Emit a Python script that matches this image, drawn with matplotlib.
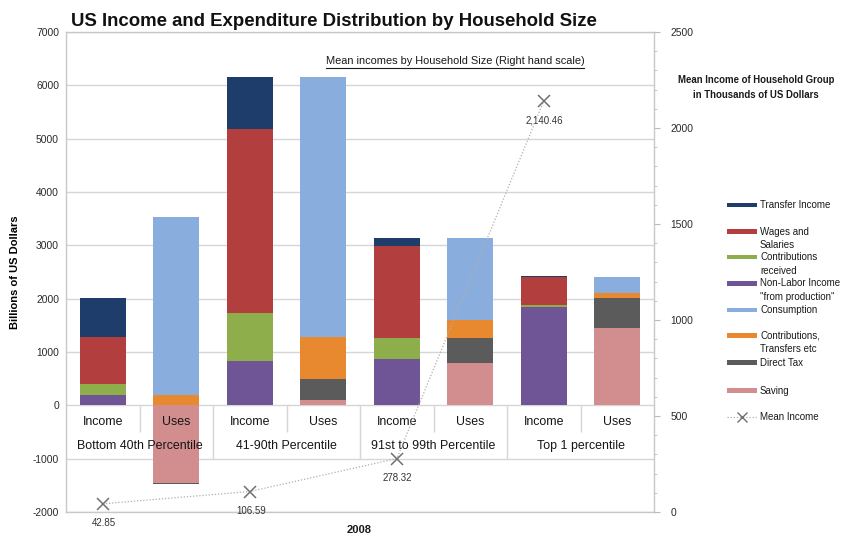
import matplotlib
matplotlib.use('Agg')
import matplotlib.pyplot as plt
from matplotlib.lines import Line2D
from matplotlib.patches import Rectangle
from matplotlib.ticker import MultipleLocator, FixedLocator
import numpy as np

plt.rcParams['font.family'] = ['Liberation Sans', 'DejaVu Sans']
plt.rcParams['axes.unicode_minus'] = False

# ---------------- data ----------------
groups = ['Bottom 40th Percentile', '41-90th Percentile',
          '91st to 99th Percentile', 'Top 1 percentile']
bar_kinds = ['Income', 'Uses']

# Income side (billions of US dollars), stacked bottom -> top
income_nonlabor = [200, 830, 860, 1840]
income_contrib_received = [200, 900, 395, 50]
income_wages = [890, 3450, 1735, 515]
income_transfer = [720, 980, 145, 15]

# Uses side, stacked bottom -> top (negatives go below zero)
uses_saving = [-1450, 95, 786, 1448]
uses_direct_tax = [-30, 390, 480, 568]
uses_contrib_transfers = [200, 800, 325, 94]
uses_consumption = [3330, 4870, 1543, 293]

# Mean income of household group (thousands of US dollars), right scale
mean_income = [42.85, 106.59, 278.32, 2140.46]
mean_income_labels = ['42.85', '106.59', '278.32', '2,140.46']

left_ticks = [-2000, -1000, 0, 1000, 2000, 3000, 4000, 5000, 6000, 7000]
right_ticks = [0, 500, 1000, 1500, 2000, 2500]

legend_labels = ['Transfer Income', 'Wages and\nSalaries', 'Contributions\nreceived',
                 'Non-Labor Income\n"from production"', 'Consumption',
                 'Contributions,\nTransfers etc', 'Direct Tax', 'Saving', 'Mean Income']

title = 'US Income and Expenditure Distribution by Household Size'
subtitle = 'Mean incomes by Household Size (Right hand scale)'

# ---------------- style ----------------
C_NAVY = '#1F3D6B'
C_RED = '#B23F3E'
C_GREEN = '#8DAE4B'
C_PURPLE = '#6F5595'
C_LBLUE = '#89AEDD'
C_ORANGE = '#E8882F'
C_GRAY = '#5B5B5B'
C_PINK = '#D28D8E'
GRID = '#D6D6D6'

W, H = 855, 538
fig = plt.figure(figsize=(W / 100, H / 100), dpi=100)
ax_l, ax_r, ax_t, ax_b = 66, 654, 32, 512
ax = fig.add_axes([ax_l / W, 1 - ax_b / H, (ax_r - ax_l) / W, (ax_b - ax_t) / H])

n = len(groups)
x_income = np.arange(n) * 2
x_uses = np.arange(n) * 2 + 1
bw = 0.63


def stack(xs, series, colors):
    pos = np.zeros(len(xs))
    neg = np.zeros(len(xs))
    for vals, c in zip(series, colors):
        v = np.array(vals, float)
        bottom = np.where(v >= 0, pos, neg)
        ax.bar(xs, v, width=bw, bottom=bottom, color=c, linewidth=0, zorder=3)
        pos += np.where(v >= 0, v, 0)
        neg += np.where(v < 0, v, 0)


stack(x_income, [income_nonlabor, income_contrib_received, income_wages, income_transfer],
      [C_PURPLE, C_GREEN, C_RED, C_NAVY])
stack(x_uses, [uses_saving, uses_direct_tax, uses_contrib_transfers, uses_consumption],
      [C_PINK, C_GRAY, C_ORANGE, C_LBLUE])

ax.set_xlim(-0.5, 2 * n - 0.5)
ax.set_ylim(-2000, 7000)
ax.yaxis.set_major_locator(FixedLocator(left_ticks))
for t in left_ticks:
    ax.axhline(t, color=GRID, lw=1.0, zorder=1)
ax.set_xticks([])
ax.tick_params(axis='y', length=0, pad=5, labelsize=7.4, labelcolor='#2a2a2a')
for s in ax.spines.values():
    s.set_color('#C8C8C8')
    s.set_linewidth(1.0)

# category "table" below zero
for i in range(n):
    ax.vlines(2 * i + 0.5, -500, 0, color=GRID, lw=1.0, zorder=2)
    if i < n - 1:
        ax.vlines(2 * i + 1.5, -1000, 0, color=GRID, lw=1.0, zorder=2)
    ax.text(2 * i, -318, bar_kinds[0], ha='center', va='center', fontsize=8.9,
            color='#151515', zorder=6)
    ax.text(2 * i + 1, -318, bar_kinds[1], ha='center', va='center', fontsize=8.9,
            color='#151515', zorder=6)
    ax.text(2 * i + 0.5, -768, groups[i], ha='center', va='center', fontsize=8.9,
            color='#151515', zorder=6)

ax.set_ylabel('Billions of US Dollars', fontsize=8, fontweight='bold')
ax.yaxis.set_label_coords(-(66 - 20) / (ax_r - ax_l), 0.5)

# right axis
ax2 = ax.twinx()
ax2.set_ylim(0, 2500)
ax2.yaxis.set_major_locator(FixedLocator(right_ticks))
ax2.yaxis.set_minor_locator(MultipleLocator(100))
ax2.tick_params(axis='y', which='major', length=4, color='#BBBBBB', pad=8,
                labelsize=7.4, labelcolor='#2a2a2a')
ax2.tick_params(axis='y', which='minor', length=2.5, color='#BBBBBB')
for s in ax2.spines.values():
    s.set_visible(False)
ax2.plot(x_income, mean_income, linestyle=(0, (1, 1.5)), color='#B8ACAC', lw=0.9,
         marker='x', markersize=8, markeredgecolor='#707070', markeredgewidth=1.1, zorder=5)
for xv, yv, lab in zip(x_income, mean_income, mean_income_labels):
    ax2.annotate(lab, (xv, yv), xytext=(1, -19), textcoords='offset pixels',
                 ha='center', va='center', fontsize=7, color='#333333')

# texts
fig.text(71 / W, 1 - 26 / H, title, fontsize=13.45, fontweight='bold', va='baseline',
         color='#111111')
sub = fig.text(455 / W, 1 - 61 / H, subtitle, fontsize=7.9, ha='center', va='center',
               color='#1a1a1a')
fig.text(756 / W, 1 - 80 / H, 'Mean Income of Household Group', fontsize=6.9,
         fontweight='bold', ha='center', va='center', color='#1a1a1a')
fig.text(756 / W, 1 - 95 / H, 'in Thousands of US Dollars', fontsize=6.9,
         fontweight='bold', ha='center', va='center', color='#1a1a1a')
fig.text(359 / W, 1 - 530 / H, '2008', fontsize=8, fontweight='bold', ha='center',
         va='center', color='#1a1a1a')

# underline subtitle
fig.canvas.draw()
bb = sub.get_window_extent()
uy = 1 - 67.5 / H
fig.add_artist(Line2D([bb.x0 / W, bb.x1 / W], [uy, uy], color='#1a1a1a', lw=0.8))

# manual legend
leg_colors = [C_NAVY, C_RED, C_GREEN, C_PURPLE, C_LBLUE, C_ORANGE, C_GRAY, C_PINK, None]
leg_y = [205, 231.5, 257, 283.5, 310, 335.5, 362.5, 390.5, 417]
for lab, c, yy in zip(legend_labels, leg_colors, leg_y):
    fy = 1 - yy / H
    if c is not None:
        fig.add_artist(Rectangle((727 / W, fy - 2.3 / H), 30 / W, 4.6 / H,
                                 facecolor=c, edgecolor='none',
                                 transform=fig.transFigure))
    else:
        fig.add_artist(Line2D([727 / W, 757 / W], [fy, fy], linestyle=(0, (1, 1.5)),
                              color='#B8ACAC', lw=0.9))
        fig.add_artist(Line2D([742 / W], [fy], marker='x', markersize=7,
                              markeredgecolor='#707070', markeredgewidth=1.0,
                              linestyle='none'))
    lines = lab.split('\n')
    for k, ln in enumerate(lines):
        fig.text(760 / W, fy - k * 13.8 / H, ln, fontsize=7, ha='left', va='center',
                 color='#1a1a1a')

fig.savefig('out.png', dpi=100)
